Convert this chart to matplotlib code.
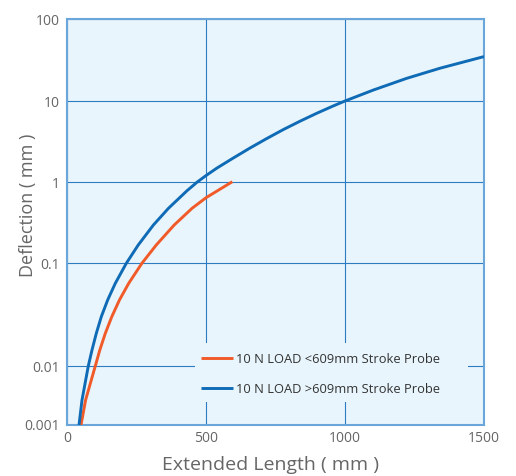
import numpy as np
import matplotlib
matplotlib.use("Agg")
import matplotlib.pyplot as plt
from matplotlib.patches import Rectangle

# Data
blue_x = [43.2, 54.0, 76.6, 89.9, 105.4, 123.4, 146.4, 173.7, 213.3, 256.1, 310.8, 365.1,
          431.3, 467.3, 500, 538.5, 598.2, 658.3, 718.3, 778.0, 838.1, 898.2, 957.9, 1000,
          1101.8, 1222, 1341.7, 1500]
blue_y = [0.001, 0.00265, 0.01, 0.0143, 0.0208, 0.0302, 0.0440, 0.0638, 0.1, 0.168, 0.297, 0.478,
          0.785, 1.0, 1.21, 1.49, 1.99, 2.64, 3.45, 4.45, 5.64, 7.06, 8.70, 10,
          13.6, 18.9, 25.1, 34.8]
orange_x = [50.4, 66.9, 101.8, 118.0, 137.8, 161.1, 188.8, 221.9, 269.4, 320.9, 385.6, 450.0, 500, 594.6]
orange_y = [0.001, 0.00265, 0.01, 0.0143, 0.0208, 0.0302, 0.0440, 0.0638, 0.1, 0.168, 0.297, 0.478, 0.645, 1.017]
labels = ["10 N LOAD <609mm Stroke Probe", "10 N LOAD >609mm Stroke Probe"]
y_ticks = [0.001, 0.01, 0.1, 1, 10, 100]
y_ticklabels = ["0.001", "0.01", "0.1", "1", "10", "100"]
x_ticks = [0, 500, 1000, 1500]

# Non-uniform decade spacing of the original axis
_logs = np.array([-3, -2, -1, 0, 1, 2], dtype=float)
_pos = np.array([0, 59, 161.7, 242.7, 324, 406], dtype=float)

def fwd(y):
    y = np.asarray(y, dtype=float)
    ly = np.log10(np.clip(y, 1e-12, None))
    out = np.interp(ly, _logs, _pos)
    out = np.where(ly < _logs[0], _pos[0] + (ly - _logs[0]) * 59, out)
    out = np.where(ly > _logs[-1], _pos[-1] + (ly - _logs[-1]) * 82, out)
    return out

def inv(p):
    p = np.asarray(p, dtype=float)
    out = np.interp(p, _pos, _logs)
    out = np.where(p < _pos[0], _logs[0] + (p - _pos[0]) / 59, out)
    out = np.where(p > _pos[-1], _logs[-1] + (p - _pos[-1]) / 82, out)
    return 10 ** out

plt.rcParams['font.family'] = ['Open Sans', 'DejaVu Sans']

bg = "#E8F5FC"
grid_c = "#2D7BC0"
spine_c = "#6AA6DA"
text_c = "#666666"

fig = plt.figure(figsize=(5.16, 4.76), dpi=100)
ax = fig.add_axes([67/516, 51/476, 417/516, 406/476])
ax.set_facecolor(bg)
ax.set_yscale("function", functions=(fwd, inv))
ax.set_xlim(0, 1500)
ax.set_ylim(0.001, 100)

ax.plot(orange_x, orange_y, color="#F15A29", lw=2.1, label=labels[0], zorder=3,
        solid_capstyle="butt", solid_joinstyle="round")
ax.plot(blue_x, blue_y, color="#0F6BB5", lw=2.1, label=labels[1], zorder=3,
        solid_capstyle="butt", solid_joinstyle="round")

ax.set_yticks(y_ticks)
ax.set_yticklabels(y_ticklabels)
ax.yaxis.set_minor_locator(matplotlib.ticker.NullLocator())
ax.set_xticks(x_ticks)
ax.tick_params(length=0, labelsize=10, labelcolor=text_c, pad=5)
ax.tick_params(axis="x", pad=4)
ax.grid(True, color=grid_c, lw=0.8)
ax.set_axisbelow(True)
for s in ax.spines.values():
    s.set_color(spine_c)
    s.set_linewidth(1.5)

# legend backdrop hiding the grid lines
ax.add_patch(Rectangle((0.307, 0.0567), 0.655, 0.145, transform=ax.transAxes,
                       facecolor=bg, edgecolor="none", zorder=2))

ax.set_xlabel("Extended Length ( mm )", fontsize=14, color=text_c)
ax.xaxis.label.set_va("center")
ax.xaxis.set_label_coords(0.488, -0.098)
ax.set_ylabel("Deflection ( mm )", fontsize=13, color=text_c)
ax.yaxis.label.set_va("center")
ax.yaxis.set_label_coords(-0.093, 0.542)

leg = ax.legend(loc="upper left", bbox_to_anchor=(0.321, 0.178), frameon=False,
                fontsize=9.3, handlelength=2.48, handletextpad=0.23,
                labelspacing=1.3, borderpad=0, borderaxespad=0)
leg.set_zorder(4)
for t in leg.get_texts():
    t.set_color("#333333")

fig.savefig("out.png", dpi=100)
